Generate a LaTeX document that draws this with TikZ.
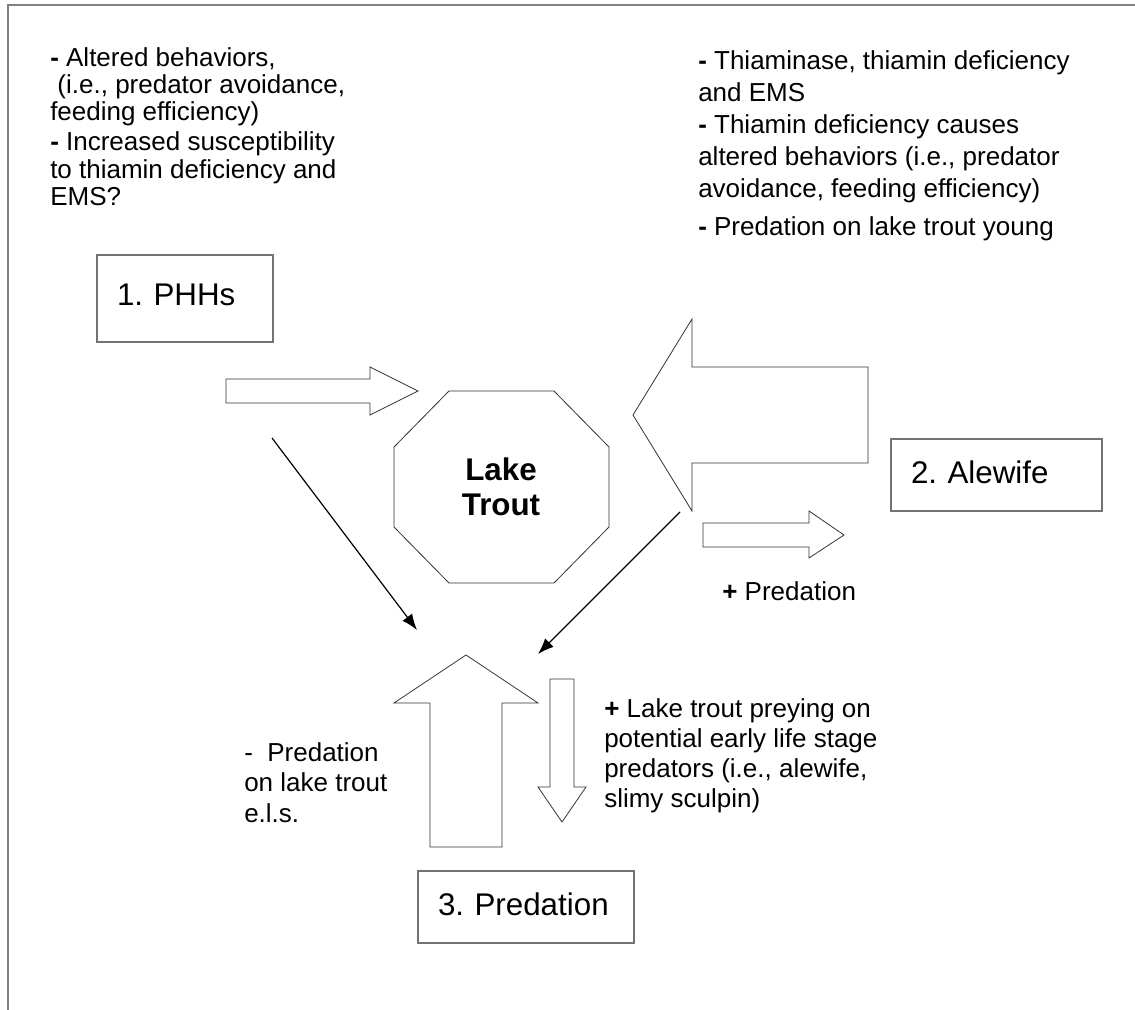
\documentclass[tikz,border=0pt]{standalone}
\usepackage{fontspec}
\setmainfont{Liberation Sans}
\usetikzlibrary{arrows.meta}
\frenchspacing

\tikzset{
  factor/.style={draw=black!55, line width=1.1pt, align=left, inner xsep=15pt, inner ysep=0pt, text depth=5pt, font=\fontsize{23.5}{27}\selectfont},
  fat/.style={draw=black!80, line width=0.6pt},
  link/.style={-{Latex[length=12pt,width=9pt]}, line width=0.9pt},
  note/.style={anchor=north west, inner sep=0pt, align=left}
}

\begin{document}
\begin{tikzpicture}[x=0.75pt, y=-0.75pt]
 \useasboundingbox (0,0) rectangle (1135,1010);
 \draw[black!50, line width=1.5pt] (8,1010) -- (8,5) -- (1135,5);

 % the three factors
 \node[factor, text width=102pt, minimum height=65.25pt] (phhs) at (185,298.5) {1. PHHs};
 \node[factor, text width=128.25pt, minimum height=54pt] (alewife) at (996.5,475) {2. Alewife};
 \node[factor, text width=132pt, minimum height=54pt] (predation) at (526,907) {3. Predation};

 % lake trout in the middle
 \node[font=\fontsize{23.5}{26}\selectfont\bfseries, align=center] (trout) at (501,487) {Lake\\Trout};
 \draw[fat] (449,391) -- (554,391) -- (609,447) -- (609,527) -- (554,583) -- (449,583) -- (394,527) -- (394,447) -- cycle;

 % block arrows
 \draw[fat] (226,379) -- (370,379) -- (370,367) -- (418,391) -- (370,415) -- (370,403) -- (226,403) -- cycle;
 \draw[fat] (868,367) -- (692,367) -- (692,319) -- (633,415) -- (692,511) -- (692,463) -- (868,463) -- cycle;
 \draw[fat] (703,523) -- (809,523) -- (809,511) -- (844,535) -- (809,558) -- (809,547) -- (703,547) -- cycle;
 \draw[fat] (430,847) -- (430,703) -- (394,703) -- (466,655) -- (538,703) -- (502,703) -- (502,847) -- cycle;
 \draw[fat] (550,679) -- (574,679) -- (574,787) -- (586,787) -- (562,822) -- (538,787) -- (550,787) -- cycle;

 % thin arrows
 \coordinate (phhsfoot) at (272,438);
 \coordinate (predleft) at (417,630);
 \coordinate (troutfoot) at (680,512);
 \coordinate (predright) at (538,654);
 \draw[link] (phhsfoot) -- (predleft);
 \draw[link] (troutfoot) -- (predright);

 % notes
 \node[note, font=\fontsize{19.5}{20.5}\selectfont] (phhsnote) at (50,47) {\textbf{-} Altered behaviors,\\
  \ (i.e., predator avoidance,\\
  feeding efficiency)\\[2pt]
  \textbf{-} Increased susceptibility\\
  to thiamin deficiency and\\
  EMS?};

 \node[note, font=\fontsize{19.5}{24}\selectfont] (alewifenote) at (698,50) {\textbf{-} Thiaminase, thiamin deficiency\\
  and EMS\\
  \textbf{-} Thiamin deficiency causes\\
  altered behaviors (i.e., predator\\
  avoidance, feeding efficiency)\\[5pt]
  \textbf{-} Predation on lake trout young};

 \node[anchor=base west, inner sep=0pt, font=\fontsize{19.5}{22}\selectfont] (preynote) at (722,600) {\textbf{+} Predation};

 \node[note, font=\fontsize{19.5}{23}\selectfont] (upnote) at (244,742) {-\ \ Predation\\
  on lake trout\\
  e.l.s.};

 \node[note, font=\fontsize{19.5}{22.5}\selectfont] (downnote) at (604,698) {\textbf{+} Lake trout preying on\\
  potential early life stage\\
  predators (i.e., alewife,\\
  slimy sculpin)};

\end{tikzpicture}
\end{document}
